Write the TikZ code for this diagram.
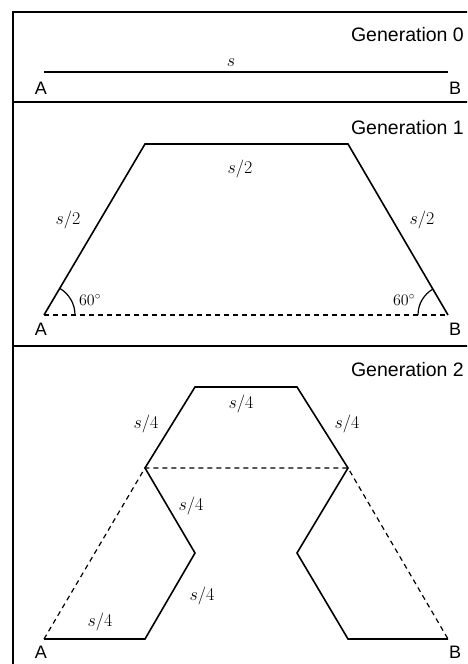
\RequirePackage{fix-cm}
\documentclass[tikz,border=0pt]{standalone}
\usepackage{fontspec}
\setmainfont{Liberation Sans}
\begin{document}
\begin{tikzpicture}[x=1pt,y=1pt,
  every node/.style={font=\fontsize{18}{20}\selectfont,inner sep=0pt},
  title/.style={anchor=east,font=\fontsize{19.5}{22}\selectfont},
  curve/.style={line width=1.6pt,line join=miter},
  guide/.style={line width=1.2pt,dash pattern=on 5pt off 4pt},
  frame/.style={line width=2.5pt},
  len/.style={font=\fontsize{18}{20}\selectfont},
  angle/.style={font=\fontsize{16}{18}\selectfont}]
\useasboundingbox (0,0) rectangle (467,664);
\clip (0,0) rectangle (467,664);
% frame and separators
\draw[frame] (13,-10) |- (480,652);
\draw[frame] (13,562) -- (480,562);
\draw[frame] (13,318) -- (480,318);
% Generation 0
\node[title] (gen0) at (464,629) {Generation 0};
\coordinate (a0) at (44,592); \coordinate (b0) at (448,592);
\draw[curve] (a0) -- (b0);
\node[len] (s0) at (231,601) {$s$};
\node (A0) at (41,576) {A}; \node (B0) at (455,576) {B};
% Generation 1
\node[title] (gen1) at (464,536) {Generation 1};
\coordinate (a1) at (44,349); \coordinate (b1) at (448,349);
\coordinate (tl1) at (145,520); \coordinate (tr1) at (348,520);
\draw[guide] (a1) -- (b1);
\draw[curve] (a1) -- (tl1) -- (tr1) -- (b1);
\draw[line width=1.2pt] ([xshift=31pt]a1) arc (0:60:31);
\draw[line width=1.2pt] ([xshift=-30pt]b1) arc (180:120:30);
\node[len] (top1) at (240,495) {$s/2$};
\node[len] (left1) at (68,444) {$s/2$};
\node[len] (right1) at (422,444) {$s/2$};
\node[angle] (angA) at (90,364) {$60^\circ$};
\node[angle] (angB) at (404,364) {$60^\circ$};
\node (A1) at (41,335) {A}; \node (B1) at (455,335) {B};
% Generation 2
\node[title] (gen2) at (464,294) {Generation 2};
\coordinate (a2) at (44,25); \coordinate (b2) at (448,25);
\coordinate (p1) at (145,25); \coordinate (p2) at (195,111);
\coordinate (p3) at (145,196); \coordinate (p4) at (195,277);
\coordinate (p5) at (297,277); \coordinate (p6) at (348,196);
\coordinate (p7) at (297,111); \coordinate (p8) at (348,25);
\draw[guide] (a2) -- (p3) -- (p6) -- (b2);
\draw[curve] (a2) -- (p1) -- (p2) -- (p3) -- (p4) -- (p5) -- (p6) -- (p7) -- (p8) -- (b2);
\node[len] (top2) at (241,260) {$s/4$};
\node[len] (ul2) at (146,240) {$s/4$};
\node[len] (ur2) at (347,240) {$s/4$};
\node[len] (mid2) at (191,158) {$s/4$};
\node[len] (low2) at (202,68) {$s/4$};
\node[len] (bot2) at (100,42) {$s/4$};
\node (A2) at (41,12) {A}; \node (B2) at (455,12) {B};
\end{tikzpicture}
\end{document}
